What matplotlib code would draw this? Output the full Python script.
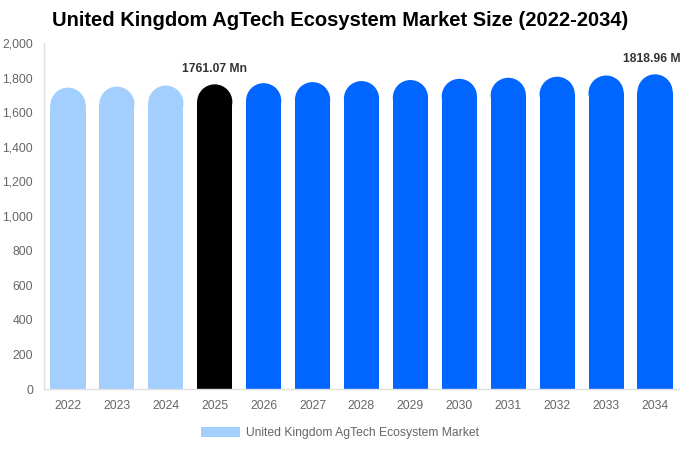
import matplotlib
matplotlib.use("Agg")
import matplotlib.pyplot as plt
from matplotlib.patches import Ellipse, Patch
import numpy as np

plt.rcParams['font.family'] = ['Liberation Sans', 'DejaVu Sans']

years = ["2022", "2023", "2024", "2025", "2026", "2027", "2028", "2029",
         "2030", "2031", "2032", "2033", "2034"]
values = [1742, 1748, 1754, 1761.07, 1768, 1774, 1780, 1786, 1793, 1799,
          1805, 1812, 1818.96]
colors = ["#a3cfff"] * 3 + ["#000000"] + ["#0066ff"] * 9
labels = {3: "1761.07 Mn", 12: "1818.96 Mn"}
yticks = [0, 200, 400, 600, 800, 1000, 1200, 1400, 1600, 1800, 2000]
series_name = "United Kingdom AgTech Ecosystem Market"
title = "United Kingdom AgTech Ecosystem Market Size (2022-2034)"

W, H = 680, 450
fig = plt.figure(figsize=(W / 100, H / 100), dpi=100)
left, right, top, bottom = 43.5, 679.5, 43, 389
ax = fig.add_axes([left / W, 1 - bottom / H, (right - left) / W, (bottom - top) / H])

ymax = 2000
n = len(years)
x = np.arange(n)
ax.set_xlim(-0.5, n - 0.5)
ax.set_ylim(0, ymax)

bw = 0.72
px_per_x = (right - left) / n
px_per_y = (bottom - top) / ymax
r_px = bw * px_per_x / 2
r_data = r_px / px_per_y

for i, (v, c) in enumerate(zip(values, colors)):
    ax.bar(x[i], v - r_data, width=bw, color=c, linewidth=0, zorder=2)
    ax.add_patch(Ellipse((x[i], v - r_data), bw, 2 * r_data, facecolor=c,
                         linewidth=0, zorder=2))

for i, txt in labels.items():
    ax.annotate(txt, (x[i], values[i]), xytext=(0, 6.5), textcoords="offset points",
                ha="center", va="bottom", fontsize=8.7, fontweight="bold",
                color="#333333", annotation_clip=False)

ax.set_xticks(x)
ax.set_xticklabels(years)
ax.set_yticks(yticks)
ax.set_yticklabels([f"{t:,}" for t in yticks])
ax.tick_params(axis="both", length=0, labelsize=8.7, labelcolor="#666666")
ax.tick_params(axis="x", pad=8)
ax.tick_params(axis="y", pad=7.5)

for s in ["top", "right"]:
    ax.spines[s].set_visible(False)
for s in ["left", "bottom"]:
    ax.spines[s].set_color("#e0e0e0")
    ax.spines[s].set_linewidth(1)

fig.text(340 / W, 1 - 21 / H, title, ha="center", va="center",
         fontsize=14.5, fontweight="bold", color="#000000")

fig.legend(handles=[Patch(facecolor="#a3cfff", edgecolor="none", label=series_name)],
           loc="center", bbox_to_anchor=(340 / W, 1 - 433 / H), frameon=False,
           fontsize=8.7, handlelength=3.3, handleheight=0.9, handletextpad=0.5,
           labelcolor="#666666")

fig.savefig("out.png", dpi=100)
